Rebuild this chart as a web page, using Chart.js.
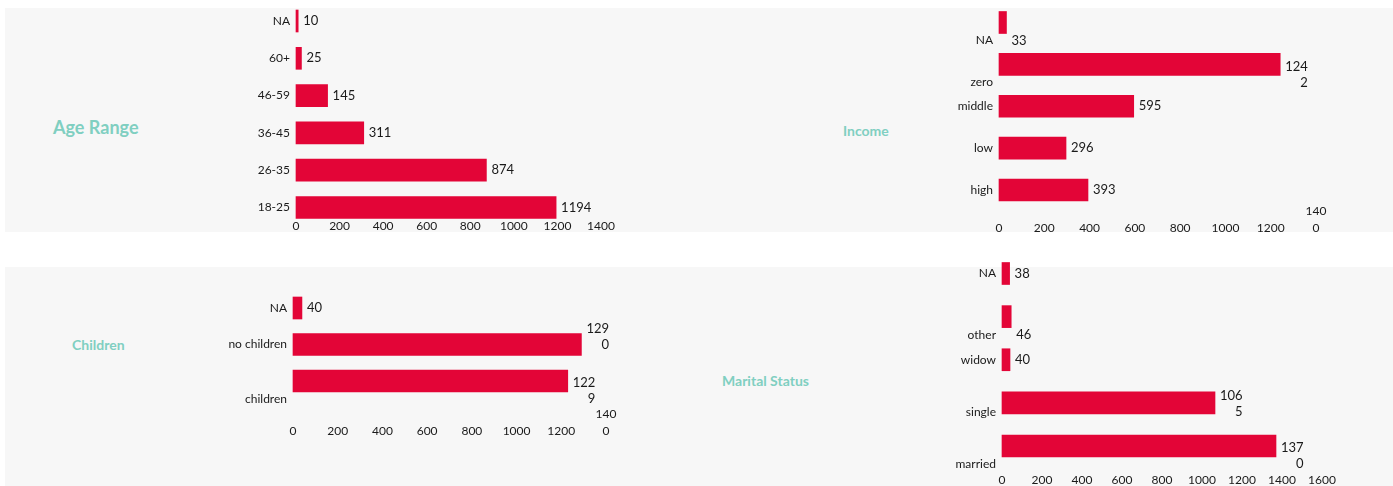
<!DOCTYPE html>
<html>
<head>
<meta charset="utf-8">
<script src="https://cdn.jsdelivr.net/npm/chart.js"></script>
<style>
  body { margin: 0; background: #ffffff; width: 1393px; height: 486px; overflow: hidden; position: relative; font-family: Lato, sans-serif; }
  .panel { position: absolute; background: #f7f7f7; }
  canvas { position: absolute; }
  .title { position: absolute; color: #80cfc1; font-weight: bold; transform: translateY(-50%); white-space: nowrap; }
</style>
</head>
<body>
<div class="panel" style="left:5px; top:8px; width:1388px; height:224px;"></div>
<div class="panel" style="left:5px; top:267px; width:1388px; height:219px;"></div>

<div class="title" style="left:53px; top:127px; font-size:18px;">Age Range</div>
<div class="title" style="left:843px; top:130px; font-size:14px;">Income</div>
<div class="title" style="left:72px; top:344px; font-size:14px;">Children</div>
<div class="title" style="left:722px; top:380px; font-size:14px;">Marital Status</div>

<canvas id="ageChart" width="696" height="240" style="left:0px; top:0px;"></canvas>
<canvas id="incomeChart" width="697" height="240" style="left:696px; top:0px;"></canvas>
<canvas id="childrenChart" width="696" height="246" style="left:0px; top:240px;"></canvas>
<canvas id="maritalChart" width="697" height="246" style="left:696px; top:240px;"></canvas>

<script>
// datos de cada grafica
var ageLabels = ["NA", "60+", "46-59", "36-45", "26-35", "18-25"];
var ageValues = [10, 25, 145, 311, 874, 1194];

var incomeLabels = ["NA", "zero", "middle", "low", "high"];
var incomeValues = [33, 1242, 595, 296, 393];

var childrenLabels = ["NA", "no children", "children"];
var childrenValues = [40, 1290, 1229];

var maritalLabels = ["NA", "other", "widow", "single", "married"];
var maritalValues = [38, 46, 40, 1065, 1370];

// eje x (min 0, paso 200)
var ageAxisMax = 1400;
var incomeAxisMax = 1400;
var childrenAxisMax = 1400;
var maritalAxisMax = 1600;
var axisStep = 200;

var barColor = "#e30537";
var textColor = "#1a1a1a";

// etiquetas de valor al final de cada barra
var valueLabels = {
  id: "valueLabels",
  afterDatasetsDraw: function (chart, args, opts) {
    var ctx = chart.ctx;
    var meta = chart.getDatasetMeta(0);
    var values = chart.data.datasets[0].data;
    var drops = opts.drops || [];
    ctx.save();
    ctx.font = "13px Lato";
    ctx.fillStyle = textColor;
    ctx.textBaseline = "middle";
    ctx.textAlign = "right";
    meta.data.forEach(function (bar, i) {
      var txt = String(values[i]);
      var lines = opts.wrap && txt.length > 3 ? [txt.slice(0, 3), txt.slice(3)] : [txt];
      var w = ctx.measureText(lines[0]).width;
      var x = bar.x + 5 + w;
      var y = bar.y + (drops[i] || 0) * 9;
      for (var j = lines.length - 1; j >= 0; j--) {
        ctx.fillText(lines[j], x, y - (lines.length - 1 - j) * 16);
      }
    });
    ctx.restore();
  }
};

function makeChart(id, labels, values, cfg) {
  var ctx = document.getElementById(id).getContext("2d");
  var drops = cfg.drops || [];
  return new Chart(ctx, {
    type: "bar",
    data: {
      labels: labels,
      datasets: [
        {
          data: values,
          backgroundColor: barColor,
          borderWidth: 0,
          barThickness: 22,
          clip: false
        }
      ]
    },
    options: {
      indexAxis: "y",
      responsive: false,
      animation: false,
      layout: { padding: cfg.padding },
      plugins: {
        legend: { display: false },
        tooltip: { enabled: false },
        valueLabels: { wrap: cfg.wrapValues, drops: drops }
      },
      scales: {
        y: {
          offset: false,
          grid: { display: false, drawTicks: false },
          border: { display: false },
          ticks: {
            autoSkip: false,
            padding: 6,
            color: textColor,
            font: { family: "Lato", size: 12, lineHeight: 1.5 },
            callback: function (value, index) {
              var label = this.getLabelForValue(value);
              var k = drops[index] || 0;
              if (!k) return label;
              var out = [];
              for (var n = 0; n < k; n++) out.push("");
              out.push(label);
              return out;
            }
          },
          afterFit: function (scale) {
            scale.width = 100;
            scale.paddingTop = 0;
            scale.paddingBottom = 0;
          }
        },
        x: {
          min: 0,
          max: cfg.max,
          grid: { display: false, drawTicks: false },
          border: { display: false },
          ticks: {
            stepSize: axisStep,
            autoSkip: false,
            maxRotation: 0,
            padding: cfg.tickPad,
            crossAlign: cfg.wrapAxis ? "far" : "near",
            color: textColor,
            font: { family: "Lato", size: 12, lineHeight: 1.4 },
            callback: function (value) {
              if (cfg.wrapAxis && value === 1400) return ["140", "0"];
              return String(value);
            }
          },
          afterFit: function (scale) {
            scale.height = cfg.axisHeight;
            scale.paddingLeft = 0;
            scale.paddingRight = 0;
          }
        }
      }
    },
    plugins: [valueLabels]
  });
}

makeChart("ageChart", ageLabels, ageValues, {
  max: ageAxisMax,
  wrapValues: false,
  wrapAxis: false,
  padding: { left: 196, right: 95, top: 21, bottom: 1.5 },
  tickPad: 10.6,
  axisHeight: 31
});

makeChart("incomeChart", incomeLabels, incomeValues, {
  max: incomeAxisMax,
  wrapValues: true,
  wrapAxis: true,
  drops: [2, 2, 0, 0, 0],
  padding: { left: 203, right: 77, top: 22.5, bottom: 1 },
  tickPad: 21,
  axisHeight: 49
});

makeChart("childrenChart", childrenLabels, childrenValues, {
  max: childrenAxisMax,
  wrapValues: true,
  wrapAxis: true,
  drops: [0, 0, 2],
  padding: { left: 193, right: 90, top: 68, bottom: 45 },
  tickPad: 33,
  axisHeight: 60
});

makeChart("maritalChart", maritalLabels, maritalValues, {
  max: maritalAxisMax,
  wrapValues: true,
  wrapAxis: false,
  drops: [0, 2, 0, 1, 2],
  padding: { left: 206, right: 71, top: 33.5, bottom: 0 },
  tickPad: 25.6,
  axisHeight: 40
});
</script>
</body>
</html>
